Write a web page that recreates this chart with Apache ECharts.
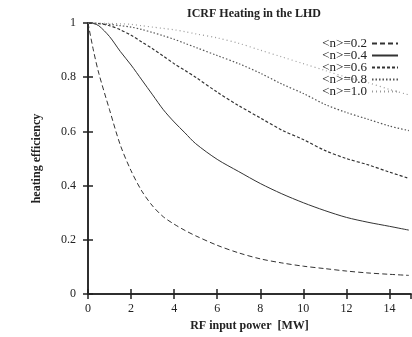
<!DOCTYPE html>
<html><head><meta charset="utf-8">
<script src="https://cdn.jsdelivr.net/npm/echarts@6/dist/echarts.min.js"></script>
<style>html,body{margin:0;padding:0;background:#fff}#c{width:412px;height:337px}</style>
</head><body><div id="c"></div>
<script>
var xs = [0,0.25,0.5,1,1.5,2,2.5,3,3.5,4,4.5,5,6,7,8,9,10,11,12,13,14,14.9];
var n02 = [1,0.9,0.815,0.68,0.55,0.455,0.38,0.325,0.285,0.258,0.235,0.215,0.18,0.152,0.13,0.115,0.103,0.094,0.085,0.078,0.073,0.069];
var n04 = [1,0.998,0.99,0.95,0.895,0.845,0.79,0.735,0.68,0.635,0.595,0.555,0.497,0.452,0.408,0.37,0.337,0.308,0.283,0.265,0.25,0.236];
var n06 = [1,1,0.998,0.99,0.975,0.955,0.93,0.905,0.878,0.85,0.825,0.8,0.745,0.695,0.65,0.605,0.57,0.53,0.5,0.477,0.45,0.427];
var n08 = [1,1,0.999,0.995,0.99,0.985,0.976,0.965,0.953,0.94,0.925,0.91,0.88,0.85,0.815,0.775,0.74,0.7,0.67,0.645,0.62,0.603];
var n10 = [1,1,1,0.999,0.997,0.995,0.99,0.985,0.98,0.975,0.968,0.96,0.945,0.925,0.9,0.875,0.85,0.825,0.8,0.78,0.755,0.735];
var names = ['<n>=0.2','<n>=0.4','<n>=0.6','<n>=0.8','<n>=1.0'];
var xTicks = ['0','2','4','6','8','10','12','14'];
var yTicks = ['0','0.2','0.4','0.6','0.8','1'];

function pairs(v){ return xs.map(function(x,i){ return [x, v[i]]; }); }
var F = '"Liberation Serif", "DejaVu Serif", serif';
var styles = [
  {type:[5,3], color:'#333', width:1},
  {type:'solid', color:'#333', width:1},
  {type:[3,2], color:'#333', width:1.2},
  {type:[1.5,2], color:'#555', width:1.2},
  {type:[1,3], color:'#999', width:1.2}
];
var vals = [n02,n04,n06,n08,n10];
var series = vals.map(function(v,i){
  return {name:names[i], type:'line', data:pairs(v), smooth:0.3, showSymbol:false, symbol:'none',
    lineStyle:styles[i], itemStyle:{color:styles[i].color}, xAxisIndex:0, yAxisIndex:0, animation:false};
});
var chart = echarts.init(document.getElementById('c'));
var axisLine = {show:true, lineStyle:{color:'#222', width:1.5}};
chart.setOption({
  animation:false,
  backgroundColor:'#fff',
  title:{text:'ICRF Heating in the LHD', left:249, textAlign:'center', top:3,
    textStyle:{fontFamily:F, fontSize:12, fontWeight:'bold', color:'#222'}},
  legend:{data:names, right:13, top:37, orient:'vertical', align:'right', itemGap:-1, itemWidth:26, itemHeight:11, padding:0,
    itemStyle:{opacity:0}, textStyle:{fontFamily:F, fontSize:13, lineHeight:11, color:'#222'}},
  grid:{left:88, right:1, top:23, bottom:40},
  xAxis:[{type:'value', min:0, max:15, interval:2, position:'bottom',
    name:'RF input power  [MW]', nameLocation:'middle', nameGap:25,
    nameTextStyle:{fontFamily:F, fontSize:12, fontWeight:'bold', color:'#222'},
    axisLine:axisLine, axisTick:{inside:true, length:5, lineStyle:{color:'#222', width:1.5}},
    axisLabel:{fontFamily:F, fontSize:12, color:'#222', margin:9, showMaxLabel:false,
      formatter:function(v){ var i=xTicks.indexOf(String(v)); return i>=0?xTicks[i]:''; }},
    splitLine:{show:false}},
   {type:'value', min:0, max:15, interval:2, position:'top',
    axisLine:axisLine, axisTick:{inside:true, length:5, lineStyle:{color:'#222', width:1.5}},
    axisLabel:{show:false}, splitLine:{show:false}}],
  yAxis:[{type:'value', min:0, max:1, interval:0.2, position:'left',
    name:'heating efficiency', nameLocation:'middle', nameGap:45,
    nameTextStyle:{fontFamily:F, fontSize:12, fontWeight:'bold', color:'#222'},
    axisLine:axisLine, axisTick:{inside:true, length:5, lineStyle:{color:'#222', width:1.5}},
    axisLabel:{fontFamily:F, fontSize:12, color:'#222', margin:12,
      formatter:function(v){ return yTicks[Math.round(v*5)]; }},
    splitLine:{show:false}},
   {type:'value', min:0, max:1, interval:0.2, position:'right',
    axisLine:axisLine, axisTick:{inside:true, length:5, lineStyle:{color:'#222', width:1.5}},
    axisLabel:{show:false}, splitLine:{show:false}}],
  series:series
});
</script></body></html>
